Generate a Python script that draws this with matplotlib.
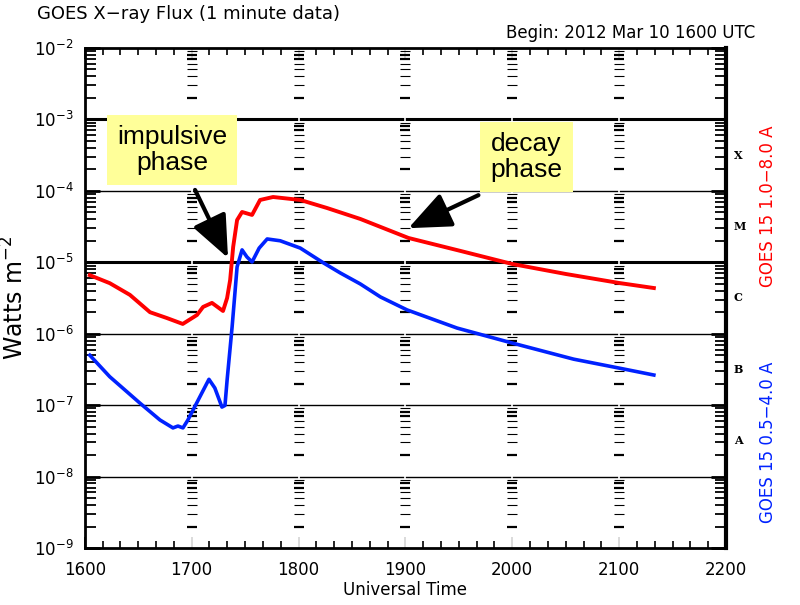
import matplotlib
matplotlib.use('Agg')
import matplotlib.pyplot as plt
import matplotlib.ticker as ticker
import numpy as np

# ── data (minutes after 1600 UT, flux in W m^-2) ─────────────────────────
long_t = [2.8, 14, 25.3, 36.6, 46, 55, 63, 66.4, 71.4, 77.6, 79.9, 81.6, 83.3,
          85.5, 88.3, 93.9, 98.4, 105.7, 121, 136, 154.7, 181.7, 211, 240,
          270, 300, 319.5]
long_flux = [6.6e-6, 5.1e-6, 3.5e-6, 2.0e-6, 1.66e-6, 1.37e-6, 1.83e-6, 2.37e-6,
             2.7e-6, 2.08e-6, 3.16e-6, 5.65e-6, 1.64e-5, 3.9e-5, 5.06e-5, 4.6e-5,
             7.45e-5, 8.2e-5, 7.45e-5, 5.75e-5, 4.04e-5, 2.19e-5, 1.44e-5,
             9.46e-6, 6.86e-6, 5.13e-6, 4.36e-6]

short_t = [2.8, 14, 30.9, 42.2, 49.5, 52.3, 55.1, 57.9, 63.6, 69.7, 73, 77,
           78.7, 79.9, 82.7, 85.5, 88.3, 91, 93.9, 97.9, 102.4, 109.7, 121,
           134, 143.4, 154.7, 166, 181, 209, 240, 274.5, 300, 319.5]
short_flux = [5.0e-7, 2.5e-7, 1.07e-7, 6.2e-8, 4.8e-8, 5.1e-8, 4.8e-8, 6.2e-8,
              1.17e-7, 2.3e-7, 1.74e-7, 9.4e-8, 9.9e-8, 2.25e-7, 1.24e-6,
              8.6e-6, 1.49e-5, 1.19e-5, 1.01e-5, 1.58e-5, 2.12e-5, 2.0e-5,
              1.58e-5, 9.8e-6, 7.1e-6, 4.97e-6, 3.27e-6, 2.15e-6, 1.2e-6,
              7.4e-7, 4.4e-7, 3.3e-7, 2.64e-7]

hours = [0, 60, 120, 180, 240, 300, 360]
decades = [1e-9, 1e-8, 1e-7, 1e-6, 1e-5, 1e-4, 1e-3]
y_ticks = decades + [1e-2]
thick_lines = [1e-3, 1e-5]
classes = ['A', 'B', 'C', 'M', 'X']
class_levels = [1e-8, 1e-7, 1e-6, 1e-5, 1e-4]

fig = plt.figure(figsize=(8, 6.05), dpi=100)
ax = fig.add_axes([0.106, 0.0942, 0.8015, 0.8265])

ax.set_yscale('log')
ax.set_xlim(0, 360)
ax.set_ylim(1e-9, 1e-2)

# horizontal grid lines
for d in decades[1:]:
    ax.axhline(d, color='black', lw=2.2 if d in thick_lines else 1.0, zorder=1)
for h in hours[1:-1]:
    ax.axvline(h, color='white', lw=1.2, zorder=2)

# log dashes in each hour column
thin_y = [k * d for d in decades for k in (3, 4, 5, 6, 9)]
bold_y = [k * d for d in decades for k in (2, 7, 8)]
for h in hours[1:-1]:
    ax.plot([h] * len(thin_y), thin_y, ls='none', marker='_', ms=6.5,
            mew=0.8, color='black', zorder=3)
    ax.plot([h] * len(bold_y), bold_y, ls='none', marker='_', ms=6.5,
            mew=1.6, color='black', zorder=3)

# curves
ax.plot(long_t, long_flux, color='#ff0000', lw=2.8, zorder=5)
ax.plot(short_t, short_flux, color='#0022ff', lw=2.6, zorder=5)

# ticks
ax.xaxis.set_major_locator(ticker.FixedLocator(hours))
ax.xaxis.set_minor_locator(ticker.MultipleLocator(10))
ax.xaxis.set_major_formatter(ticker.FuncFormatter(
    lambda m, p: f"{16 + int(m) // 60:02d}{int(m) % 60:02d}"))
ax.tick_params(axis='x', which='major', direction='in', length=8, width=1.2,
               top=True, labelsize=12, pad=9)
ax.tick_params(axis='x', which='minor', direction='in', length=5, width=1.2,
               top=True)
ax.yaxis.set_major_locator(ticker.FixedLocator(y_ticks))
ax.yaxis.set_major_formatter(ticker.LogFormatterSciNotation())
ax.yaxis.set_minor_locator(ticker.LogLocator(base=10, subs=np.arange(2, 10),
                                             numticks=12))
ax.yaxis.set_minor_formatter(ticker.NullFormatter())
ax.tick_params(axis='y', which='major', direction='in', length=11, width=2,
               right=True, labelsize=12, pad=8)
ax.tick_params(axis='y', which='minor', direction='in', length=8, width=1.3,
               right=True)

for s in ['left', 'bottom', 'top']:
    ax.spines[s].set_linewidth(2)
ax.spines['right'].set_linewidth(3)

ax.set_xlabel('Universal Time', fontsize=12, labelpad=2)
ax.set_ylabel('Watts m$^{-2}$', fontsize=17, labelpad=4)

# flare class letters
for c, lv in zip(classes, class_levels):
    ax.text(1.012, lv * np.sqrt(10), c, transform=ax.get_yaxis_transform(),
            family='DejaVu Serif', fontweight='bold', fontsize=8,
            ha='left', va='center')

ax.text(1.065, 0.684, 'GOES 15 1.0\u22128.0 A', color='#ff0000', fontsize=12,
        rotation=90, ha='center', va='center', transform=ax.transAxes)
ax.text(1.065, 0.212, 'GOES 15 0.5\u22124.0 A', color='#0022ff', fontsize=12,
        rotation=90, ha='center', va='center', transform=ax.transAxes)

fig.text(0.046, 0.977, 'GOES X\u2212ray Flux (1 minute data)', fontsize=13,
         ha='left', va='center')
fig.text(0.944, 0.945, 'Begin: 2012 Mar 10 1600 UTC', fontsize=12,
         ha='right', va='center')

# annotations
box = dict(boxstyle='square,pad=0.38', fc='#ffff99', ec='none')
arrow = dict(arrowstyle='-|>,head_length=1.3,head_width=0.55', lw=3,
             color='black', mutation_scale=20, shrinkA=0, shrinkB=0)
ax.text(49, 3.73e-4, 'impulsive\nphase', family='Liberation Sans', fontsize=19,
        ha='center', va='center', bbox=box, zorder=6, linespacing=1.15)
ax.annotate('', xy=(80.4, 1.15e-5), xytext=(61.9, 1.03e-4),
            arrowprops=arrow, zorder=6)
ax.text(248, 2.98e-4, 'decay\nphase', family='Liberation Sans', fontsize=19,
        ha='center', va='center', bbox=box, zorder=6, linespacing=1.15)
ax.annotate('', xy=(181.7, 3.0e-5), xytext=(221, 8.7e-5),
            arrowprops=arrow, zorder=6)

fig.savefig('out.png', dpi=100, facecolor='white')
